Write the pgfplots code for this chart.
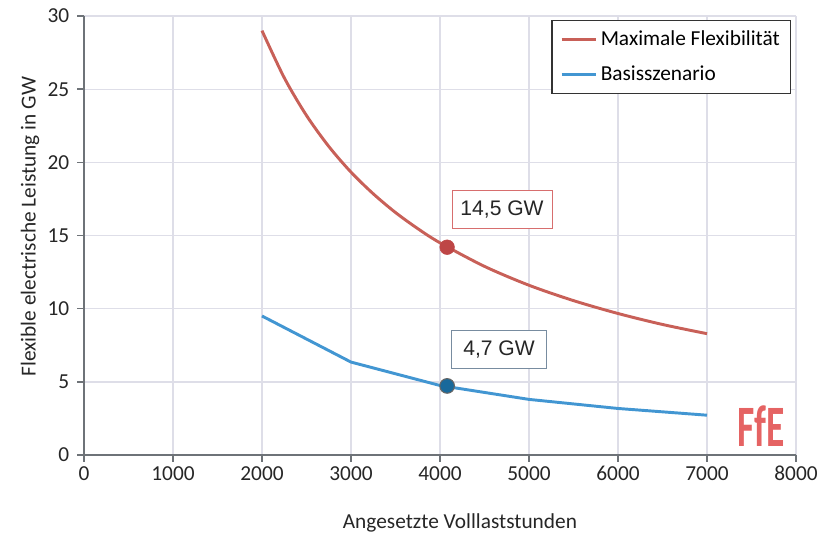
\documentclass[border=0pt]{standalone}
\usepackage{pgfplots}
\pgfplotsset{compat=1.18}
\usepackage{fontspec}
\setmainfont{Carlito}
\newfontfamily\arialf{Liberation Sans}
\definecolor{redline}{RGB}{200,96,88}
\definecolor{redmark}{RGB}{190,70,70}
\definecolor{blueline}{RGB}{66,150,210}
\definecolor{bluemark}{RGB}{25,105,155}
\definecolor{gridc}{RGB}{222,222,232}
\definecolor{axc}{RGB}{110,115,120}
\definecolor{logoc}{RGB}{226,82,82}
\pgfplotstableread{
x y
2000 29.0
2250 25.78
2500 23.2
2750 21.09
3000 19.33
3250 17.85
3500 16.57
3750 15.47
4000 14.5
4500 12.89
5000 11.6
5500 10.55
6000 9.67
6500 8.92
7000 8.29
}\maxflex
\pgfplotstableread{
x y
2000 9.5
3000 6.35
4000 4.75
5000 3.8
6000 3.18
7000 2.72
}\basis
\begin{document}
\begin{tikzpicture}
\begin{axis}[
  scale only axis,
  width=534pt, height=329.25pt,
  xmin=0, xmax=8000, ymin=0, ymax=30,
  xtick={0,1000,...,8000}, ytick={0,5,...,30},
  axis x line*=bottom, axis y line*=left,
  axis line style={axc, line width=1.4pt},
  tick style={axc, line width=1.2pt},
  tick align=outside, major tick length=5pt,
  grid=major, major grid style={gridc, line width=1pt},
  /pgf/number format/assume math mode=true,
  /pgf/number format/1000 sep={},
  ticklabel style={font=\fontsize{16}{19}\selectfont, text=black!85},
  xticklabel style={yshift=0pt},
  yticklabel style={xshift=-2.5pt},
  xlabel={Angesetzte Volllaststunden},
  ylabel={Flexible electrische Leistung in GW},
  label style={font=\fontsize{16}{19}\selectfont, text=black!85},
  xlabel style={at={(axis description cs:0.528,-0.155)}, anchor=center},
  ylabel style={at={(axis description cs:-0.0758,0.52)}, anchor=center},
  legend style={at={(axis description cs:0.993,0.991)}, anchor=north east,
    draw=black!80, line width=0.8pt, font=\fontsize{16}{19}\selectfont,
    row sep=9.5pt, inner xsep=6pt, inner ysep=6pt},
  legend cell align=left,
  legend image code/.code={\draw[#1, line width=2.4pt] (0cm,0cm) -- (0.92cm,0cm);},
]
\addplot[redline, line width=2.2pt, smooth] table[x=x,y=y]{\maxflex};
\addlegendentry{Maximale Flexibilität}
\addplot[blueline, line width=2.2pt] table[x=x,y=y]{\basis};
\addlegendentry{Basisszenario}
\addplot[only marks, mark=*, mark size=5.5pt, redmark, forget plot] coordinates {(4080,14.2)};
\addplot[only marks, mark=*, mark size=5.5pt, mark options={fill=bluemark, draw=black!60, line width=0.8pt}, forget plot] coordinates {(4080,4.72)};
\node[draw={rgb,255:red,215;green,110;blue,110}, fill=white, line width=0.7pt, minimum width=75pt, minimum height=28.5pt, font=\arialf\fontsize{15.8}{17}\selectfont, text=black!85] at (axis cs:4697,16.81) {14,5 GW};
\node[draw={rgb,255:red,120;green,140;blue,160}, fill=white, line width=0.7pt, minimum width=71pt, minimum height=28.5pt, font=\arialf\fontsize{15.8}{17}\selectfont, text=black!85] at (axis cs:4663,7.18) {4,7 GW};
\node[text=logoc, font=\fontsize{44}{46}\selectfont\bfseries, xscale=0.64, inner sep=0pt, opacity=0.9] at (axis cs:7607,2.0) {FfE};
\coordinate (ll) at (rel axis cs:0,0);
\coordinate (ur) at (rel axis cs:1,1);
\end{axis}
\pgfresetboundingbox
\path ([shift={(-63pt,-63pt)}]ll) rectangle ([shift={(17.25pt,12pt)}]ur);
\end{tikzpicture}
\end{document}
